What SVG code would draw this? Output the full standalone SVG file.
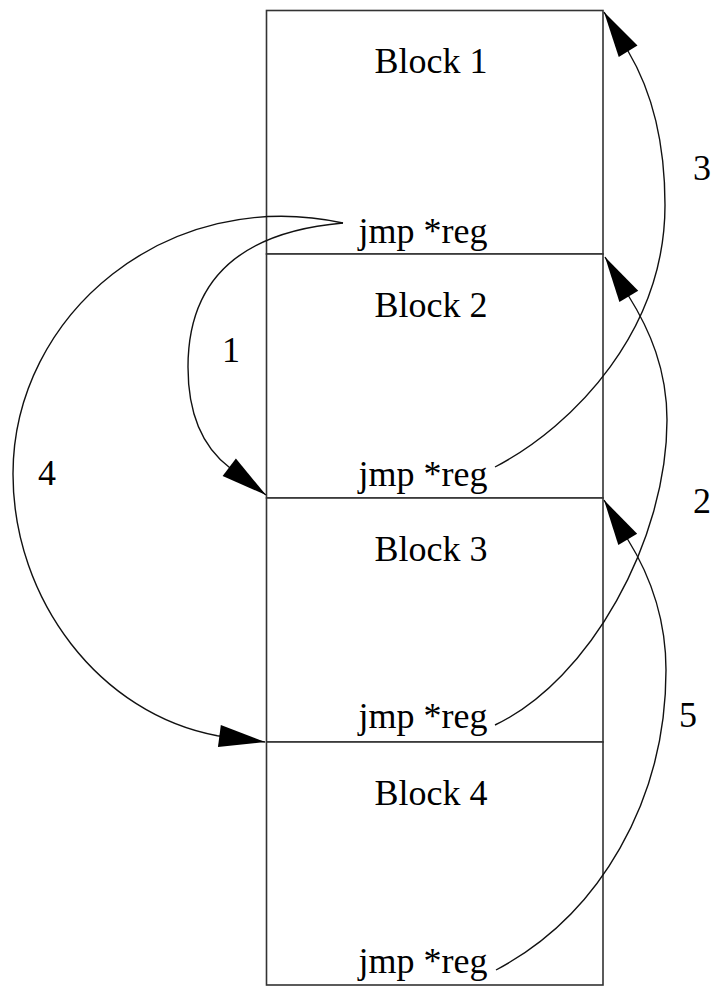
<svg xmlns="http://www.w3.org/2000/svg" width="719" height="989" viewBox="0 0 719 989">
  <defs>
    <marker id="arrow" markerUnits="userSpaceOnUse" markerWidth="46" markerHeight="22" refX="46" refY="11" orient="auto" overflow="visible">
      <path d="M0,0 L46,11 L0,22 z" fill="#000"/>
    </marker>
    <style>
      .box { fill: #fff; stroke: #333; stroke-width: 1.6; }
      .title { font-family: "Liberation Serif", "Times New Roman", serif; font-size: 36px; fill: #000; text-anchor: middle; }
      .edge { fill: none; stroke: #111; stroke-width: 1.4; marker-end: url(#arrow); }
      .elabel { font-family: "Liberation Serif", "Times New Roman", serif; font-size: 36px; fill: #000; text-anchor: middle; }
    </style>
  </defs>
  <rect width="719" height="989" fill="#fff"/>

  <g id="block1">
    <rect class="box" x="266.5" y="10.5" width="336.5" height="243.5"/>
    <text class="title" x="431" y="73">Block 1</text>
    <text class="title" x="423" y="243">jmp *reg</text>
  </g>
  <g id="block2">
    <rect class="box" x="266.5" y="254" width="336.5" height="244"/>
    <text class="title" x="431" y="317">Block 2</text>
    <text class="title" x="423" y="486">jmp *reg</text>
  </g>
  <g id="block3">
    <rect class="box" x="266.5" y="498" width="336.5" height="244"/>
    <text class="title" x="431" y="561">Block 3</text>
    <text class="title" x="423" y="728">jmp *reg</text>
  </g>
  <g id="block4">
    <rect class="box" x="266.5" y="742" width="336.5" height="243"/>
    <text class="title" x="431" y="805">Block 4</text>
    <text class="title" x="423" y="973">jmp *reg</text>
  </g>

  <g id="edges">
    <!-- 1: block 1 -> block 3 -->
    <path class="edge" d="M343,223 C240,232 188,280 188,367 C188,410 200,445 229.5,467.5 L266,495"/>
    <!-- 4: block 1 -> block 4 -->
    <path class="edge" d="M343,223 C168,185 13,314 13,474 C13,600 100,714 217.3,735.7 L265,742"/>
    <!-- 3: block 2 -> block 1 -->
    <path class="edge" d="M495,467 C575,425 665,330 665,205 C665,140 650,88 628,51 L604,12"/>
    <!-- 2: block 3 -> block 2 -->
    <path class="edge" d="M495,725 C590,680 667,540 667,420 C667,370 650,330 628,295 L605,257"/>
    <!-- 5: block 4 -> block 3 -->
    <path class="edge" d="M496,970 C600,915 666,800 666,670 C666,620 650,575 627.5,539 L604,500"/>
    <text class="elabel" x="231" y="362">1</text>
    <text class="elabel" x="702" y="513">2</text>
    <text class="elabel" x="702" y="180">3</text>
    <text class="elabel" x="47" y="485">4</text>
    <text class="elabel" x="688" y="727">5</text>
  </g>
</svg>
